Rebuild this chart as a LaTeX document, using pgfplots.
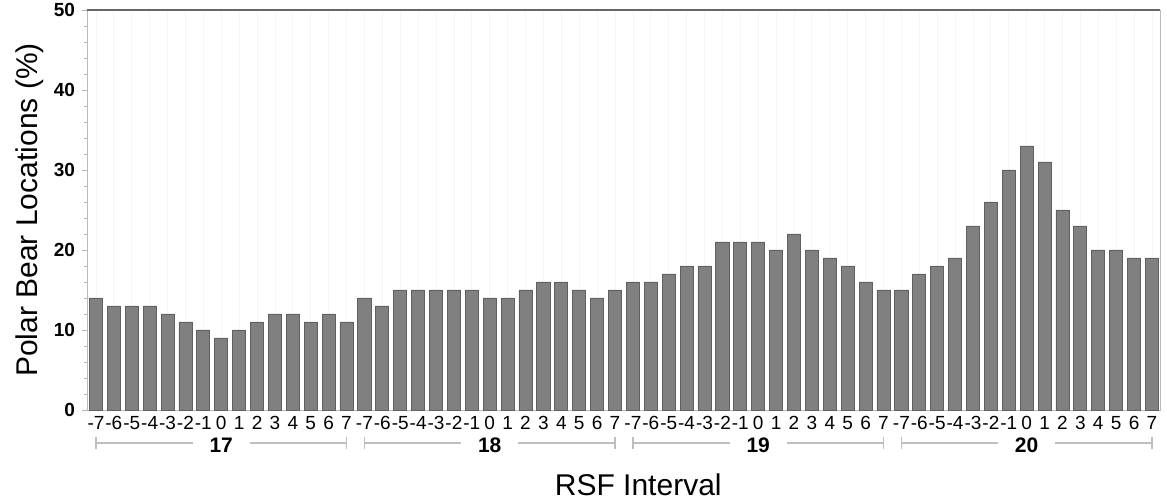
\documentclass[border=0pt]{standalone}
\usepackage{fontspec}
\setmainfont{Liberation Sans}
\usepackage{pgfplots}
\pgfplotsset{compat=1.18}
\usepackage{pgfplotstable}

% one row per bar: index, percent of locations (years 17--20, intervals -7..7)
\pgfplotstableread{
i  v
0  14
1  13
2  13
3  13
4  12
5  11
6  10
7  9
8  10
9  11
10 12
11 12
12 11
13 12
14 11
15 14
16 13
17 15
18 15
19 15
20 15
21 15
22 14
23 14
24 15
25 16
26 16
27 15
28 14
29 15
30 16
31 16
32 17
33 18
34 18
35 21
36 21
37 21
38 20
39 22
40 20
41 19
42 18
43 16
44 15
45 15
46 17
47 18
48 19
49 23
50 26
51 30
52 33
53 31
54 25
55 23
56 20
57 20
58 19
59 19
}\bears

\definecolor{barfill}{HTML}{808080}
\definecolor{baredge}{HTML}{606060}

\begin{document}
\begin{tikzpicture}
\begin{axis}[
  scale only axis,
  width=536.5pt, height=200pt,
  xmin=-0.5, xmax=59.45,
  ymin=0, ymax=50,
  clip=false,
  axis line style={draw=gray!55},
  xtick=data,
  xticklabels={-7,-6,-5,-4,-3,-2,-1,0,1,2,3,4,5,6,7,
               -7,-6,-5,-4,-3,-2,-1,0,1,2,3,4,5,6,7,
               -7,-6,-5,-4,-3,-2,-1,0,1,2,3,4,5,6,7,
               -7,-6,-5,-4,-3,-2,-1,0,1,2,3,4,5,6,7},
  x tick label style={font=\fontsize{9.5}{10}\selectfont, yshift=3pt},
  xmajorgrids,
  x grid style={gray!7},
  x tick style={draw=none},
  ytick={0,10,20,30,40,50},
  minor y tick num=4,
  y tick style={gray!60},
  tick align=outside,
  major tick length=2.5pt,
  minor tick length=1.5pt,
  ytick pos=left,
  /pgf/number format/assume math mode=true,
  y tick label style={font=\fontsize{9.5}{11}\selectfont\bfseries},
]
\addplot[ybar, bar width=0.73, fill=barfill, draw=baredge, line width=0.4pt]
  table[x=i, y=v] {\bears};

\draw[gray!80!black, line width=0.8pt] (rel axis cs:0,1) -- (rel axis cs:1,1);
\coordinate (bl) at (rel axis cs:0,0);
\coordinate (tr) at (rel axis cs:1,1);

% year groups under the interval labels
\draw[gray!50, line width=0.6pt]
  ([yshift=-16.5pt]axis cs:0,0) -- ([yshift=-16.5pt]axis cs:5.4,0)
  ([yshift=-16.5pt]axis cs:8.6,0) -- ([yshift=-16.5pt]axis cs:14,0)
  ([yshift=-13.5pt]axis cs:0,0) -- ([yshift=-19.5pt]axis cs:0,0)
  ([yshift=-13.5pt]axis cs:14,0) -- ([yshift=-19.5pt]axis cs:14,0);
\draw[gray!50, line width=0.6pt]
  ([yshift=-16.5pt]axis cs:15,0) -- ([yshift=-16.5pt]axis cs:20.4,0)
  ([yshift=-16.5pt]axis cs:23.6,0) -- ([yshift=-16.5pt]axis cs:29,0)
  ([yshift=-13.5pt]axis cs:15,0) -- ([yshift=-19.5pt]axis cs:15,0)
  ([yshift=-13.5pt]axis cs:29,0) -- ([yshift=-19.5pt]axis cs:29,0);
\draw[gray!50, line width=0.6pt]
  ([yshift=-16.5pt]axis cs:30,0) -- ([yshift=-16.5pt]axis cs:35.4,0)
  ([yshift=-16.5pt]axis cs:38.6,0) -- ([yshift=-16.5pt]axis cs:44,0)
  ([yshift=-13.5pt]axis cs:30,0) -- ([yshift=-19.5pt]axis cs:30,0)
  ([yshift=-13.5pt]axis cs:44,0) -- ([yshift=-19.5pt]axis cs:44,0);
\draw[gray!50, line width=0.6pt]
  ([yshift=-16.5pt]axis cs:45,0) -- ([yshift=-16.5pt]axis cs:50.4,0)
  ([yshift=-16.5pt]axis cs:53.6,0) -- ([yshift=-16.5pt]axis cs:59,0)
  ([yshift=-13.5pt]axis cs:45,0) -- ([yshift=-19.5pt]axis cs:45,0)
  ([yshift=-13.5pt]axis cs:59,0) -- ([yshift=-19.5pt]axis cs:59,0);
\node[font=\fontsize{10.5}{12}\selectfont\bfseries] at ([yshift=-17.5pt]axis cs:7,0) {17};
\node[font=\fontsize{10.5}{12}\selectfont\bfseries] at ([yshift=-17.5pt]axis cs:22,0) {18};
\node[font=\fontsize{10.5}{12}\selectfont\bfseries] at ([yshift=-17.5pt]axis cs:37,0) {19};
\node[font=\fontsize{10.5}{12}\selectfont\bfseries] at ([yshift=-17.5pt]axis cs:52,0) {20};

\node[font=\fontsize{15}{17}\selectfont, inner sep=1pt] at ([yshift=-37.5pt]axis cs:30.3,0) {RSF Interval};
\node[rotate=90, font=\fontsize{15}{17}\selectfont] at ([xshift=-28.5pt]rel axis cs:0,0.5) {Polar Bear Locations (\%)};
\end{axis}
\pgfresetboundingbox
\path ([xshift=-43.5pt,yshift=-45.5pt]bl) rectangle ([xshift=3.5pt,yshift=5pt]tr);
\end{tikzpicture}
\end{document}
